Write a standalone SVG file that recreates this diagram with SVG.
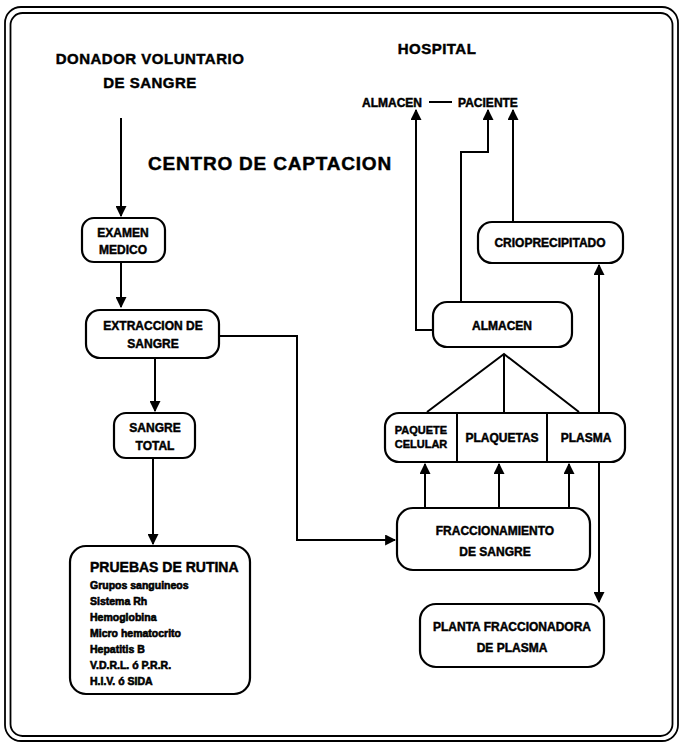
<svg xmlns="http://www.w3.org/2000/svg" width="684" height="745" viewBox="0 0 684 745">
<style>
text{font-family:"Liberation Sans","DejaVu Sans",sans-serif;font-weight:bold;fill:#000;stroke:#000;stroke-width:0.45}
.t{font-size:15px;letter-spacing:0.5px}
.n{font-size:12px;text-anchor:middle}
.l{font-size:10.5px;stroke-width:0.6}
.box{fill:#fff;stroke:#000;stroke-width:2.2}
.c{fill:none;stroke:#000;stroke-width:2}
.fr{fill:none;stroke:#000;stroke-width:1.8}
</style>
<defs>
<marker id="ah" viewBox="0 0 10 10" refX="9" refY="5" markerWidth="5.5" markerHeight="5.5" orient="auto" markerUnits="strokeWidth">
<path d="M0,0 L10,5 L0,10 z" fill="#000"/>
</marker>
</defs>
<rect width="684" height="745" fill="#fff"/>
<g id="frame">
<rect class="fr" x="5" y="7" width="673" height="734" rx="16"/>
<rect class="fr" x="10.5" y="13" width="662" height="723" rx="12"/>
</g>
<g id="titles">
<text class="t" x="150" y="64" text-anchor="middle">DONADOR VOLUNTARIO</text>
<text class="t" x="150" y="88" text-anchor="middle">DE SANGRE</text>
<text class="t" x="437" y="54" text-anchor="middle" letter-spacing="1">HOSPITAL</text>
<text style="font-size:19px" x="148" y="170" letter-spacing="0.8">CENTRO DE CAPTACION</text>
</g>
<g id="hospital-labels">
<text class="n" x="392" y="107">ALMACEN</text>
<text class="n" x="488" y="107">PACIENTE</text>
<line x1="429" y1="102" x2="452" y2="102" stroke="#000" stroke-width="2"/>
</g>
<g id="examen">
<rect class="box" x="82" y="218" width="83" height="44" rx="12"/>
<text class="n" x="123" y="237">EXAMEN</text>
<text class="n" x="123" y="254">MEDICO</text>
</g>
<g id="extraccion">
<rect class="box" x="86" y="310" width="133" height="48" rx="14"/>
<text class="n" x="153" y="330">EXTRACCION DE</text>
<text class="n" x="153" y="348">SANGRE</text>
</g>
<g id="sangre-total">
<rect class="box" x="114" y="413" width="81" height="45" rx="12"/>
<text class="n" x="155" y="432">SANGRE</text>
<text class="n" x="155" y="450">TOTAL</text>
</g>
<g id="pruebas">
<rect class="box" x="70" y="546" width="180" height="148" rx="16"/>
<text x="90" y="572" style="font-size:14px">PRUEBAS DE RUTINA</text>
<text class="l" x="90" y="589">Grupos sanguineos</text>
<text class="l" x="90" y="605">Sistema Rh</text>
<text class="l" x="90" y="621">Hemoglobina</text>
<text class="l" x="90" y="637">Micro hematocrito</text>
<text class="l" x="90" y="653">Hepatitis B</text>
<text class="l" x="90" y="669">V.D.R.L. ó P.R.R.</text>
<text class="l" x="90" y="685">H.I.V. ó SIDA</text>
</g>
<g id="almacen">
<rect class="box" x="433" y="302" width="139" height="45" rx="14"/>
<text class="n" x="502" y="330">ALMACEN</text>
</g>
<g id="crioprecipitado">
<rect class="box" x="478" y="222" width="145" height="41" rx="14"/>
<text class="n" x="550" y="247">CRIOPRECIPITADO</text>
</g>
<g id="componentes">
<rect class="box" x="385" y="413" width="240" height="49" rx="14"/>
<line x1="457" y1="413" x2="457" y2="462" stroke="#000" stroke-width="2"/>
<line x1="547" y1="413" x2="547" y2="462" stroke="#000" stroke-width="2"/>
<text class="n" x="421" y="434" style="font-size:11px">PAQUETE</text>
<text class="n" x="421" y="448" style="font-size:11px">CELULAR</text>
<text class="n" x="502" y="442">PLAQUETAS</text>
<text class="n" x="586" y="442">PLASMA</text>
</g>
<g id="fraccionamiento">
<rect class="box" x="397" y="508" width="193" height="62" rx="16"/>
<text class="n" x="495" y="535">FRACCIONAMIENTO</text>
<text class="n" x="495" y="556">DE SANGRE</text>
</g>
<g id="planta">
<rect class="box" x="420" y="604" width="184" height="63" rx="16"/>
<text class="n" x="512" y="631">PLANTA FRACCIONADORA</text>
<text class="n" x="512" y="652">DE PLASMA</text>
</g>
<g id="connectors" class="c">
<path class="c" d="M121,118 V216" marker-end="url(#ah)"/>
<path class="c" d="M121,262 V307" marker-end="url(#ah)"/>
<path class="c" d="M155,358 V411" marker-end="url(#ah)"/>
<path class="c" d="M153,458 V544" marker-end="url(#ah)"/>
<path class="c" d="M219,336 H297 V540 H395" marker-end="url(#ah)"/>
<path class="c" d="M433,330 H416 V110" marker-end="url(#ah)"/>
<path class="c" d="M461,302 V152 H488 V110" marker-end="url(#ah)"/>
<path class="c" d="M513,222 V110" marker-end="url(#ah)"/>
<path class="c" d="M599,413 V265" marker-end="url(#ah)"/>
<path class="c" d="M599,462 V602" marker-end="url(#ah)"/>
<path class="c" d="M425,508 V464" marker-end="url(#ah)"/>
<path class="c" d="M499,508 V464" marker-end="url(#ah)"/>
<path class="c" d="M569,508 V464" marker-end="url(#ah)"/>
<path class="c" d="M427,412 L504,354 L579,412 M504,354 V412"/>
</g>
</svg>
